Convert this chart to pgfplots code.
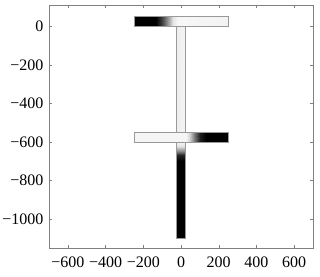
\documentclass[border=0pt]{standalone}
\usepackage{fontspec}
\setmainfont{Liberation Serif}
\usepackage{pgfplots}
\pgfplotsset{compat=1.18}
\begin{document}
\fontsize{16}{19}\selectfont
\begin{tikzpicture}
\begin{axis}[
  scale only axis, width=264pt, height=243pt,
  xmin=-700, xmax=700, ymin=-1150, ymax=110,
  xtick={-600,-400,...,600}, ytick={-1000,-800,...,0},
  xticklabels={−600,−400,−200,0,200,400,600},
  yticklabels={−1000,−800,−600,−400,−200,0},
  tick align=inside, major tick length=3pt,
  axis line style={gray, line width=0.8pt},
  tick style={gray},
  ticklabel style={font=\fontsize{16}{19}\selectfont},
  xticklabel style={yshift=-3pt},
  colormap={bw}{gray(0cm)=(0); gray(1cm)=(1)},
  point meta min=0, point meta max=1,
]
% top flange
\addplot[surf, shader=interp, mesh/rows=2, point meta=explicit] table[meta=c] {
x y c
-250 0 0
-135 0 0
-100 0 0.25
-70 0 0.6
-40 0 0.9
-15 0 0.97
250 0 0.95
-250 50 0
-135 50 0
-100 50 0.25
-70 50 0.6
-40 50 0.9
-15 50 0.97
250 50 0.95
};
% upper web
\addplot[surf, shader=interp, mesh/cols=2, point meta=explicit] table[meta=c] {
x y c
-25 -550 0.93
25 -550 0.96
-25 0 0.93
25 0 0.96
};
% middle flange
\addplot[surf, shader=interp, mesh/rows=2, point meta=explicit] table[meta=c] {
x y c
-250 -600 0.96
25 -600 0.96
45 -600 0.85
70 -600 0.5
100 -600 0.12
130 -600 0
250 -600 0
-250 -550 0.96
25 -550 0.96
45 -550 0.85
70 -550 0.5
100 -550 0.12
130 -550 0
250 -550 0
};
% lower web
\addplot[surf, shader=interp, mesh/cols=2, point meta=explicit] table[meta=c] {
x y c
-25 -1100 0
25 -1100 0
-25 -700 0
25 -700 0
-25 -670 0.15
25 -670 0.15
-25 -645 0.55
25 -645 0.55
-25 -620 0.9
25 -620 0.9
-25 -600 0.96
25 -600 0.96
};
% outlines
\addplot[gray!80, line width=0.5pt] coordinates {(-250,0) (250,0) (250,50) (-250,50) (-250,0)};
\addplot[gray!80, line width=0.5pt] coordinates {(-250,-600) (250,-600) (250,-550) (-250,-550) (-250,-600)};
\addplot[gray!80, line width=0.5pt] coordinates {(-25,0) (-25,-550)};
\addplot[gray!80, line width=0.5pt] coordinates {(25,0) (25,-550)};
\addplot[gray!80, line width=0.5pt] coordinates {(-25,-600) (-25,-1100) (25,-1100) (25,-600)};
\end{axis}
\pgfresetboundingbox
\path[use as bounding box] ([shift={(-49pt,-28pt)}]current axis.south west) rectangle ([shift={(7pt,5pt)}]current axis.north east);
\end{tikzpicture}
\end{document}
